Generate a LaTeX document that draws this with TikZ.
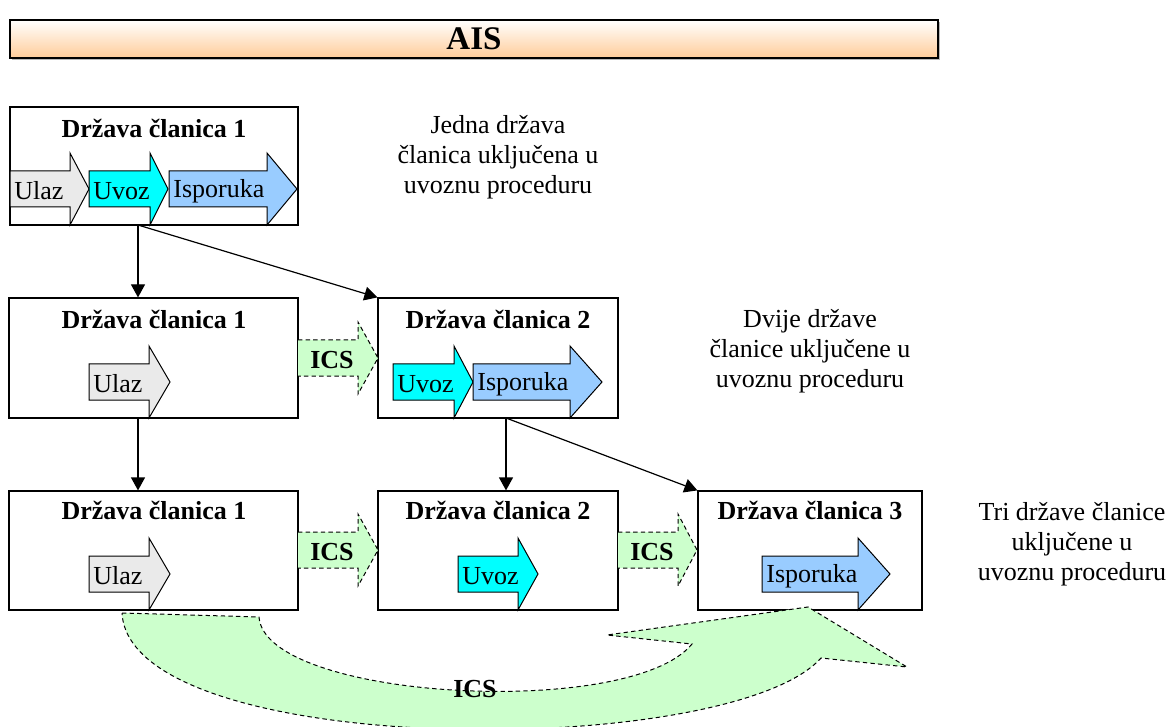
\documentclass[tikz,border=0pt]{standalone}
\usepackage{fontspec}
\setmainfont{Liberation Serif}
\usetikzlibrary{arrows.meta,fit}
\definecolor{ulazc}{HTML}{EAEAEA}
\definecolor{uvozc}{HTML}{00FFFF}
\definecolor{ispc}{HTML}{99CCFF}
\definecolor{icsc}{HTML}{CCFFCC}
\definecolor{peach}{HTML}{FFCC99}
\newcommand{\farrow}[7]{%
  \filldraw[flow, fill=#1] (#2,#5-18) -- (#3,#5-18) -- (#3,#5-36) -- (#4,#5) -- (#3,#5+36) -- (#3,#5+18) -- (#2,#5+18) -- cycle;
  \node[lbl] (#6) at (#2+4,#5+2) {#7};}
\newcommand{\icsarr}[5]{%
  \filldraw[icsarrow] (#1,#4-18) -- (#2,#4-18) -- (#2,#4-36) -- (#3,#4) -- (#2,#4+36) -- (#2,#4+18) -- (#1,#4+18);
  \node[ttl] (#5) at ({(#1+#2)/2+4},#4+2) {ICS};}
\begin{document}
\begin{tikzpicture}[x=0.5pt,y=-0.5pt,
  box/.style={draw=black, line width=0.6pt, inner sep=0pt, fill=white},
  ttl/.style={font=\fontsize{13}{15}\selectfont\bfseries, inner sep=0pt},
  lbl/.style={font=\fontsize{13}{15}\selectfont, inner sep=0pt, anchor=west},
  note/.style={font=\fontsize{13}{15}\selectfont, align=center, inner sep=0pt},
  flow/.style={draw=black, line width=0.5pt},
  icsarrow/.style={draw=black, fill=icsc, dash pattern=on 2.2pt off 1.6pt, line width=0.5pt},
  conn/.style={draw=black, line width=0.6pt, -{Triangle[length=6.5pt,width=7pt]}},
]
\useasboundingbox (0,0) rectangle (1173,727);

% AIS bar
\fill[gray!55] (12,22) rectangle (940,60);
\coordinate (aisa) at (10,20); \coordinate (aisb) at (938,58);
\node[draw=black, line width=0.6pt, inner sep=0pt, fit=(aisa)(aisb), top color=white, bottom color=peach] (aisbar) {};
\node[font=\fontsize{16.5}{18}\selectfont\bfseries, inner sep=0pt] (ais) at (aisbar.center) {AIS};

% boxes
\coordinate (r1a) at (10,107);  \coordinate (r1b) at (298,225);
\coordinate (r2aa) at (9,298);  \coordinate (r2ab) at (298,418);
\coordinate (r2ba) at (378,298); \coordinate (r2bb) at (618,418);
\coordinate (r3aa) at (9,491);  \coordinate (r3ab) at (298,610);
\coordinate (r3ba) at (378,491); \coordinate (r3bb) at (618,610);
\coordinate (r3ca) at (698,491); \coordinate (r3cb) at (922,610);
\node[box, fit=(r1a)(r1b)] (r1) {};
\node[box, fit=(r2aa)(r2ab)] (r2a) {};
\node[box, fit=(r2ba)(r2bb)] (r2b) {};
\node[box, fit=(r3aa)(r3ab)] (r3a) {};
\node[box, fit=(r3ba)(r3bb)] (r3b) {};
\node[box, fit=(r3ca)(r3cb)] (r3c) {};

% titles
\node[ttl] (t1) at (154,128) {Država članica 1};
\node[ttl] (t2a) at (154,319) {Država članica 1};
\node[ttl] (t2b) at (498,319) {Država članica 2};
\node[ttl] (t3a) at (154,510) {Država članica 1};
\node[ttl] (t3b) at (498,510) {Država članica 2};
\node[ttl] (t3c) at (810,510) {Država članica 3};

% process arrows
\farrow{ulazc}{10}{70}{89}{189}{u1}{Ulaz}
\farrow{uvozc}{89}{150}{168}{189}{v1}{Uvoz}
\farrow{ispc}{169}{267}{297}{189}{i1}{Isporuka}
\farrow{ulazc}{89}{149}{170}{382}{u2}{Ulaz}
\farrow{uvozc}{393}{454}{473}{382}{v2}{Uvoz}
\farrow{ispc}{473}{570}{602}{382}{i2}{Isporuka}
\farrow{ulazc}{89}{149}{170}{574}{u3}{Ulaz}
\farrow{uvozc}{458}{518}{538}{574}{v3}{Uvoz}
\farrow{ispc}{762}{858}{890}{574}{i3}{Isporuka}

% ICS arrows
\icsarr{298}{358}{378}{358}{ics1}
\icsarr{298}{358}{378}{550}{ics2}
\icsarr{618}{678}{697}{550}{ics3}

% notes
\node[note] (n1) at (498,157) {Jedna država\\članica uključena u\\uvoznu proceduru};
\node[note] (n2) at (810,351) {Dvije države\\članice uključene u\\uvoznu proceduru};
\node[note] (n3) at (1072,544) {Tri države članice\\uključene u\\uvoznu proceduru};

% connectors
\coordinate (p1) at (138,225);
\coordinate (p2) at (138,418);
\coordinate (p3) at (506,418);
\draw[conn] (p1) -- (p1 |- r2a.north);
\draw[conn] (p1) -- (r2b.north west);
\draw[conn] (p2) -- (p2 |- r3a.north);
\draw[conn] (p3) -- (p3 |- r3b.north);
\draw[conn] (p3) -- (r3c.north west);

% big curved ICS arrow
\filldraw[icsarrow] (122,613) -- (259,617) .. controls (265,700) and (630,720) .. (692,644)
  -- (607,635) -- (808,607) -- (907,667) -- (821,658)
  .. controls (730,760) and (130,760) .. (122,613) -- cycle;
\node[ttl] (icsbig) at (475,689) {ICS};
\end{tikzpicture}
\end{document}
